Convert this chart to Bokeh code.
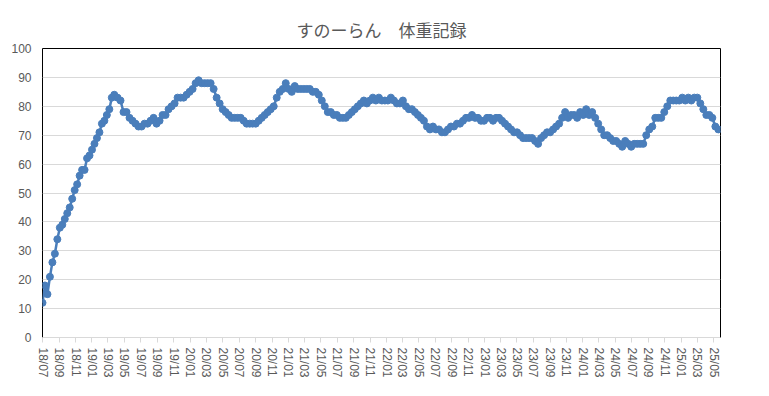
import pandas as pd
from bokeh.plotting import figure
from bokeh.models import Range1d, DatetimeTickFormatter, MonthsTicker, SingleIntervalTicker, ColumnDataSource
from bokeh.embed import file_html
from bokeh.resources import INLINE

title = "すのーらん　体重記録"
# early (denser) measurements and later measurements
early_start, early_end = "2018-07-01", "2019-03-25"
late_start, late_end = "2019-04-06", "2025-05-19"
weights_early = [
    12, 18, 15, 21, 26, 29, 34, 38, 39, 41, 43, 45, 48, 51, 53, 56, 58, 58, 62, 63,
    65, 67, 69, 71, 74, 75, 77, 79, 83, 84,
]
weights_late = [
    83, 82, 78, 78, 76, 75, 74, 73, 73, 74,
    74, 75, 76, 74, 75, 77, 77, 79, 80, 81, 83, 83, 83, 84, 85, 86, 88, 89, 88, 88,
    88, 88, 86, 83, 81, 79, 78, 77, 76, 76, 76, 76, 75, 74, 74, 74, 74, 75, 76, 77,
    78, 79, 80, 83, 85, 86, 88, 86, 85, 87, 86, 86, 86, 86, 86, 85, 85, 84, 82, 80,
    78, 78, 77, 77, 76, 76, 76, 77, 78, 79, 80, 81, 82, 81, 82, 83, 82, 83, 82, 82,
    82, 83, 82, 81, 81, 82, 80, 79, 79, 78, 77, 76, 75, 73, 72, 73, 72, 72, 71, 71,
    72, 73, 73, 74, 74, 75, 76, 76, 77, 76, 76, 75, 75, 76, 76, 75, 76, 76, 75, 74,
    73, 72, 71, 71, 70, 69, 69, 69, 69, 68, 67, 69, 70, 71, 71, 72, 73, 74, 76, 78,
    76, 77, 77, 76, 78, 77, 79, 77, 78, 76, 74, 72, 70, 70, 69, 68, 68, 67, 66, 68,
    67, 66, 67, 67, 67, 67, 70, 72, 73, 76, 76, 76, 78, 80, 82, 82, 82, 82, 83, 82,
    83, 82, 83, 83, 81, 79, 77, 77, 76, 73, 72,
]
y_ticks = list(range(0, 101, 10))

dates = list(pd.date_range(early_start, early_end, periods=len(weights_early))) + \
        list(pd.date_range(late_start, late_end, periods=len(weights_late)))
weights = weights_early + weights_late

src = ColumnDataSource(dict(date=dates, weight=weights))

p = figure(width=753, height=380, x_axis_type="datetime", output_backend="svg",
           toolbar_location=None,
           x_range=Range1d(pd.Timestamp("2018-07-01"), pd.Timestamp("2025-05-27")),
           y_range=Range1d(0, 100),
           min_border_left=42, min_border_right=33, min_border_top=48, min_border_bottom=41)

p.title.text = title
p.title.align = "center"
p.title.vertical_align = "top"
p.title.text_font = "Noto Sans CJK JP"
p.title.text_font_size = "17px"
p.title.text_font_style = "normal"
p.title.text_color = "#595959"
p.title.standoff = 10
p.title.offset = 0

p.line("date", "weight", source=src, line_color="#4A7EBB", line_width=2.5)
p.scatter("date", "weight", source=src, size=7, fill_color="#4A7EBB", line_color="#4A7EBB")

p.outline_line_color = "black"
p.outline_line_width = 1

p.xaxis.ticker = MonthsTicker(months=[0, 2, 4, 6, 8, 10])
p.xaxis.formatter = DatetimeTickFormatter(months="%y/%m", days="%y/%m", years="%y/%m")
p.xaxis.major_label_orientation = "vertical"
p.xaxis.major_label_text_font = "Liberation Sans"
p.xaxis.major_label_text_font_size = "12px"
p.xaxis.major_label_text_color = "#595959"
p.xaxis.axis_line_color = "#d9d9d9"
p.xaxis.major_tick_line_color = "#d9d9d9"
p.xaxis.major_tick_out = 5
p.xaxis.major_tick_in = 0
p.xaxis.minor_tick_line_color = None

p.yaxis.ticker = y_ticks
p.yaxis.major_label_text_font = "Liberation Sans"
p.yaxis.major_label_text_font_size = "12px"
p.yaxis.major_label_text_color = "#595959"
p.yaxis.axis_line_color = None
p.yaxis.major_tick_line_color = None
p.yaxis.minor_tick_line_color = None

p.xgrid.grid_line_color = None
p.ygrid.grid_line_color = "#d9d9d9"
p.ygrid.ticker = SingleIntervalTicker(interval=10)

open("out.html", "w").write(file_html(p, INLINE))
